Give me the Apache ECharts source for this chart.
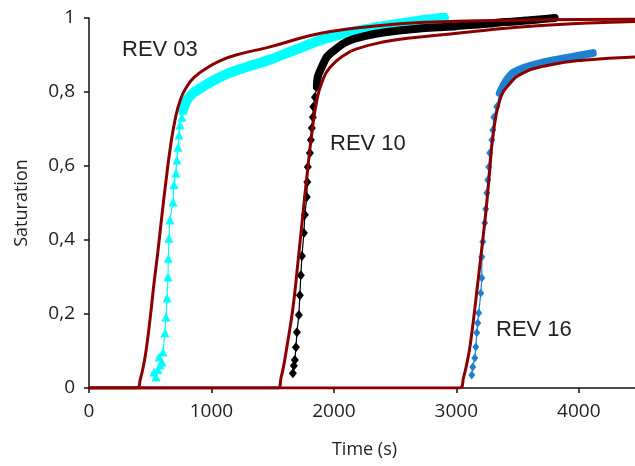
<!DOCTYPE html>
<html>
<head>
<meta charset="utf-8">
<script src="https://cdn.jsdelivr.net/npm/echarts@6/dist/echarts.min.js"></script>
<style>
html, body { margin: 0; padding: 0; background: #fff; }
#chart { width: 635px; height: 466px; }
</style>
</head>
<body>
<div id="chart"></div>
<script>
// REV 03 : measured points (steep part) + dense part + fit
var rev03Pts = [[547,0.03],[531,0.043],[563,0.049],[580,0.062],[596,0.07],[571,0.084],[604,0.097],
	[620,0.149],[629,0.192],[637,0.243],[645,0.30],[648,0.351],[653,0.405],[661,0.454],[686,0.503],
	[694,0.549],[710,0.581],[718,0.616],[727,0.651],[735,0.684],[743,0.711],[759,0.732],[767,0.751]];
var rev03Band = [[767,0.751],[800,0.778],[850,0.797],[900,0.808],[1000,0.828],[1100,0.845],[1200,0.858],
	[1300,0.869],[1400,0.879],[1500,0.89],[1600,0.903],[1700,0.916],[1800,0.929],[1900,0.941],[2000,0.951],
	[2100,0.959],[2200,0.966],[2300,0.972],[2400,0.978],[2500,0.983],[2600,0.988],[2700,0.993],[2800,0.997],[2900,1.001]];
var rev03Fit = [[0,0],[392,0],[420,0.025],[445,0.06],[470,0.11],[500,0.19],[530,0.28],[563,0.37],[595,0.465],
	[629,0.56],[660,0.64],[700,0.72],[745,0.778],[800,0.815],[860,0.84],[963,0.865],[1069,0.884],[1200,0.9],
	[1478,0.922],[1800,0.952],[2000,0.965],[2300,0.977],[2600,0.986],[3000,0.991],[3500,0.994],[4000,0.996],[4500,0.997]];

// REV 10
var rev10Pts = [[1665,0.04],[1673,0.06],[1681,0.076],[1690,0.11],[1698,0.151],[1714,0.197],[1722,0.251],
	[1730,0.305],[1739,0.357],[1755,0.419],[1763,0.468],[1779,0.516],[1783,0.557],[1787,0.597],[1804,0.635],
	[1812,0.67],[1820,0.703],[1828,0.732],[1832,0.76],[1845,0.786],[1861,0.814]];
var rev10Band = [[1861,0.814],[1869,0.841],[1902,0.868],[1943,0.895],[2000,0.912],[2073,0.93],[2150,0.942],
	[2250,0.951],[2350,0.958],[2450,0.963],[2550,0.967],[2650,0.97],[2750,0.973],[2850,0.975],[3000,0.978],
	[3100,0.981],[3200,0.983],[3300,0.986],[3400,0.989],[3500,0.991],[3600,0.994],[3700,0.997],[3804,1.0]];
var rev10Fit = [[0,0],[1543,0],[1570,0.03],[1590,0.06],[1616,0.111],[1665,0.215],[1706,0.338],[1747,0.47],
	[1779,0.57],[1820,0.689],[1861,0.778],[1902,0.826],[1967,0.866],[2100,0.903],[2200,0.918],[2400,0.935],
	[2600,0.945],[2800,0.952],[3100,0.962],[3400,0.972],[3800,0.982],[4200,0.988],[4500,0.991]];

// REV 16
var rev16Pts = [[3126,0.035],[3134,0.057],[3151,0.081],[3159,0.111],[3167,0.149],[3175,0.176],[3183,0.203],
	[3200,0.257],[3208,0.297],[3208,0.354],[3216,0.395],[3232,0.446],[3240,0.484],[3249,0.527],[3257,0.562],
	[3265,0.597],[3273,0.635],[3290,0.67],[3298,0.697],[3306,0.732],[3330,0.76],[3355,0.797]];
var rev16Band = [[3355,0.797],[3396,0.824],[3461,0.851],[3530,0.862],[3600,0.87],[3700,0.879],[3800,0.886],
	[3900,0.892],[4000,0.898],[4114,0.905]];
var rev16Fit = [[0,0],[3028,0],[3060,0.03],[3085,0.065],[3115,0.12],[3178,0.292],[3241,0.475],[3268,0.57],
	[3301,0.685],[3355,0.778],[3420,0.816],[3543,0.851],[3763,0.873],[4033,0.886],[4500,0.895]];

var fitColor = '#8b0000';
var labelFont = '"Open Sans", sans-serif';

function pointSeries(name, data, color, symbol, size){
	return {
		name: name, type: 'line', data: data,
		symbol: symbol, symbolSize: size, showSymbol: true,
		itemStyle: { color: color },
		lineStyle: { color: color, width: 1.2 },
		z: 2
	};
}
function bandSeries(name, data, color, width){
	return {
		name: name, type: 'line', data: data, showSymbol: false, smooth: 0.3,
		lineStyle: { color: color, width: width, cap: 'round', join: 'round' },
		z: 2
	};
}
function fitSeries(name, data){
	return {
		name: name, type: 'line', data: data, showSymbol: false,
		smooth: 0.5,
		lineStyle: { color: fitColor, width: 3, join: 'round' },
		z: 3
	};
}

var chart = echarts.init(document.getElementById('chart'));
chart.setOption({
	animation: false,
	grid: { left: 89, top: 18, right: -5, bottom: 78, outerBoundsMode: 'none' },
	xAxis: {
		type: 'value', min: 0, max: 4500, interval: 1000,
		name: 'Time (s)', nameLocation: 'middle', nameGap: 53,
		nameTextStyle: { fontFamily: labelFont, fontSize: 18, color: '#222' },
		axisLine: { onZero: false, lineStyle: { color: '#111', width: 1.5 } },
		axisTick: { show: true, length: 5, lineStyle: { color: '#111', width: 1.5 } },
		axisLabel: {
			margin: 14, fontFamily: labelFont, fontSize: 19, color: '#222', showMaxLabel: false,
			formatter: function (v) { return String(v); }
		},
		splitLine: { show: false }
	},
	yAxis: {
		type: 'value', min: 0, max: 1, interval: 0.2,
		name: 'Saturation', nameLocation: 'middle', nameGap: 58,
		nameTextStyle: { fontFamily: labelFont, fontSize: 18, color: '#222' },
		axisLine: { show: true, lineStyle: { color: '#111', width: 1.5 } },
		axisTick: { show: true, length: 5, lineStyle: { color: '#111', width: 1.5 } },
		axisLabel: {
			margin: 14, fontFamily: labelFont, fontSize: 19, color: '#222',
			formatter: function (v) { return String(Math.round(v * 10) / 10).replace('.', ','); }
		},
		splitLine: { show: false }
	},
	graphic: [
		{ type: 'text', left: 122, top: 39, style: { text: 'REV 03', font: '22px "Liberation Sans", Arial', fill: '#222' } },
		{ type: 'text', left: 330, top: 133, style: { text: 'REV 10', font: '22px "Liberation Sans", Arial', fill: '#222' } },
		{ type: 'text', left: 496, top: 319, style: { text: 'REV 16', font: '22px "Liberation Sans", Arial', fill: '#222' } }
	],
	series: [
		bandSeries('REV 03 dense', rev03Band, '#00ffff', 10),
		pointSeries('REV 03', rev03Pts, '#00ffff', 'triangle', 9),
		bandSeries('REV 10 dense', rev10Band, '#000000', 8),
		pointSeries('REV 10', rev10Pts, '#000000', 'diamond', [8, 10]),
		bandSeries('REV 16 dense', rev16Band, '#1f80d0', 8),
		pointSeries('REV 16', rev16Pts, '#1f80d0', 'diamond', [7, 9]),
		fitSeries('REV 03 fit', rev03Fit),
		fitSeries('REV 10 fit', rev10Fit),
		fitSeries('REV 16 fit', rev16Fit)
	]
});
</script>
</body>
</html>
